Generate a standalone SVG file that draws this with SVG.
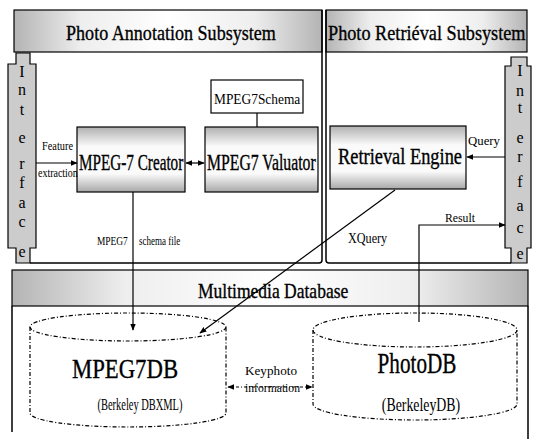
<svg xmlns="http://www.w3.org/2000/svg" width="533" height="439" viewBox="0 0 533 439">
<defs>
<linearGradient id="hdr" x1="0" y1="0" x2="1" y2="0">
<stop offset="0" stop-color="#b4b4b4"/><stop offset="0.22" stop-color="#eeeeee"/><stop offset="0.5" stop-color="#ffffff"/><stop offset="0.78" stop-color="#eeeeee"/><stop offset="1" stop-color="#b4b4b4"/>
</linearGradient>
<linearGradient id="box" x1="0" y1="0" x2="0" y2="1">
<stop offset="0" stop-color="#b0b0b0"/><stop offset="0.3" stop-color="#fafafa"/><stop offset="0.72" stop-color="#fafafa"/><stop offset="1" stop-color="#a8a8a8"/>
</linearGradient>
<marker id="arr" viewBox="0 0 10 10" refX="9" refY="5" markerWidth="7" markerHeight="7" orient="auto-start-reverse" markerUnits="userSpaceOnUse">
<path d="M0,1 L10,5 L0,9 Z" fill="#000"/>
</marker>
<style>
.t{font-family:"Liberation Serif","Times New Roman",serif;fill:#000}
.b{stroke:#000;stroke-width:0.35}
.ln{stroke:#000;stroke-width:1.2;fill:none}
.pb{stroke:#000;stroke-width:1.5;fill:none}
.cyl{stroke:#000;stroke-width:1.2;fill:none;stroke-dasharray:4 2 1 2}
.tab{fill:#cccccc;stroke:#000;stroke-width:1.2}
.bx{fill:url(#box);stroke:#000;stroke-width:1.2}
</style>
</defs>
<rect width="533" height="439" fill="#fff"/>

<g id="annotation-subsystem">
<rect x="14" y="10" width="308" height="42" fill="url(#hdr)" stroke="#000" stroke-width="1.2"/>
<path class="pb" d="M322,10 V260 Q322,263 319,263 H30"/>
<text class="t b" transform="translate(66,40) scale(0.82,1)" font-size="22" textLength="256" lengthAdjust="spacingAndGlyphs">Photo Annotation Subsystem</text>
</g>

<g id="retrieval-subsystem">
<rect x="326" y="10" width="201" height="42" fill="url(#hdr)" stroke="#000" stroke-width="1.2"/>
<path class="pb" d="M326,10 V260 Q326,263 329,263 H511"/>
<text class="t b" transform="translate(328,40) scale(0.83,1)" font-size="22" textLength="238" lengthAdjust="spacingAndGlyphs">Photo Retriéval Subsystem</text>
</g>

<g id="interface-left">
<path class="tab" d="M16,53 H30 V64 H36 V248 H30 V263 H16 V248 H8 V64 H16 Z"/>
<g class="t" font-size="16" text-anchor="middle">
<text x="22" y="77">I</text><text x="22" y="95">n</text><text x="22" y="115">t</text><text x="22" y="143">e</text><text x="22" y="169">r</text><text x="22" y="188">f</text><text x="22" y="208">a</text><text x="22" y="227">c</text><text x="22" y="257">e</text>
</g>
</g>

<g id="interface-right">
<path class="tab" d="M511,57 H527 V66 H531 V248 H527 V263 H511 V248 H505 V66 H511 Z"/>
<g class="t" font-size="16" text-anchor="middle">
<text x="520" y="76">I</text><text x="520" y="96">n</text><text x="520" y="113">t</text><text x="520" y="143">e</text><text x="520" y="162">r</text><text x="520" y="187">f</text><text x="520" y="211">a</text><text x="520" y="233">c</text><text x="520" y="259">e</text>
</g>
</g>

<g id="mpeg7-schema">
<rect x="211" y="80" width="92" height="33" fill="#fff" stroke="#000" stroke-width="1.2"/>
<text class="t" transform="translate(214,104) scale(0.89,1)" font-size="15" textLength="97" lengthAdjust="spacingAndGlyphs">MPEG7Schema</text>
</g>

<g id="mpeg7-creator">
<rect class="bx" x="77" y="127" width="108" height="65"/>
<text class="t b" transform="translate(79,170) scale(0.66,1)" font-size="23" textLength="158" lengthAdjust="spacingAndGlyphs">MPEG-7 Creator</text>
</g>

<g id="mpeg7-valuator">
<rect class="bx" x="205" y="127" width="113" height="65"/>
<text class="t b" transform="translate(207,170) scale(0.675,1)" font-size="23" textLength="161" lengthAdjust="spacingAndGlyphs">MPEG7 Valuator</text>
</g>

<g id="retrieval-engine">
<rect class="bx" x="330" y="126" width="136" height="63"/>
<text class="t b" transform="translate(338,164) scale(0.8,1)" font-size="23" textLength="155" lengthAdjust="spacingAndGlyphs">Retrieval Engine</text>
</g>

<g id="multimedia-database">
<rect x="12" y="270" width="516" height="36" fill="url(#hdr)" stroke="#000" stroke-width="1.2"/>
<path class="pb" d="M12,306 V432 M528,306 V439"/>
<text class="t b" transform="translate(198,298) scale(0.795,1)" font-size="22" textLength="189" lengthAdjust="spacingAndGlyphs">Multimedia Database</text>
</g>

<g id="mpeg7-db">
<ellipse class="cyl" cx="128" cy="327" rx="98" ry="14"/>
<path class="cyl" d="M30,327 V413 A98,14 0 0 0 226,413 V327"/>
<text class="t b" transform="translate(125,378) scale(0.81,1)" font-size="28" text-anchor="middle" textLength="131" lengthAdjust="spacingAndGlyphs">MPEG7DB</text>
<text class="t" transform="translate(140,410) scale(0.62,1)" font-size="17" text-anchor="middle" textLength="137" lengthAdjust="spacingAndGlyphs">(Berkeley DBXML)</text>
</g>

<g id="photo-db">
<ellipse class="cyl" cx="415" cy="330" rx="102" ry="17"/>
<path class="cyl" d="M313,330 V404 A102,16 0 0 0 517,404 V330"/>
<text class="t b" transform="translate(417,373) scale(0.71,1)" font-size="30" text-anchor="middle" textLength="111" lengthAdjust="spacingAndGlyphs">PhotoDB</text>
<text class="t" transform="translate(421,411) scale(0.725,1)" font-size="19" text-anchor="middle" textLength="108" lengthAdjust="spacingAndGlyphs">(BerkeleyDB)</text>
</g>

<g id="connectors">
<line class="ln" x1="36" y1="163" x2="77" y2="163" marker-end="url(#arr)"/>
<line class="ln" x1="186" y1="163" x2="204" y2="163" marker-start="url(#arr)" marker-end="url(#arr)"/>
<line class="ln" x1="257" y1="113" x2="257" y2="127"/>
<line class="ln" x1="505" y1="157" x2="467" y2="157" marker-end="url(#arr)"/>
<line class="ln" x1="133" y1="192" x2="133" y2="330" marker-end="url(#arr)"/>
<line class="ln" x1="395" y1="190" x2="200" y2="333" marker-end="url(#arr)"/>
<polyline class="ln" points="419,322 419,225 505,225" marker-end="url(#arr)"/>
<line class="ln" x1="228" y1="387" x2="312" y2="387" stroke-dasharray="3 2 1 2" marker-start="url(#arr)" marker-end="url(#arr)"/>
<g class="t" font-size="12">
<text transform="translate(42,150) scale(0.86,1)" textLength="36" lengthAdjust="spacingAndGlyphs">Feature</text>
<text transform="translate(38,177) scale(0.83,1)" textLength="48" lengthAdjust="spacingAndGlyphs">extraction</text>
<text transform="translate(97,245) scale(0.79,1)" textLength="39" lengthAdjust="spacingAndGlyphs">MPEG7</text>
<text transform="translate(139,245) scale(0.75,1)" textLength="55" lengthAdjust="spacingAndGlyphs">schema file</text>
<text x="468" y="145" font-size="13" textLength="32" lengthAdjust="spacingAndGlyphs">Query</text>
<text x="445" y="222" textLength="30" lengthAdjust="spacingAndGlyphs">Result</text>
<text transform="translate(348,243) scale(0.87,1)" font-size="14" textLength="45" lengthAdjust="spacingAndGlyphs">XQuery</text>
<text x="245" y="375" font-size="13" textLength="52" lengthAdjust="spacingAndGlyphs">Keyphoto</text>
<text x="245" y="392" textLength="55" lengthAdjust="spacingAndGlyphs">information</text>
</g>
</g>
</svg>
